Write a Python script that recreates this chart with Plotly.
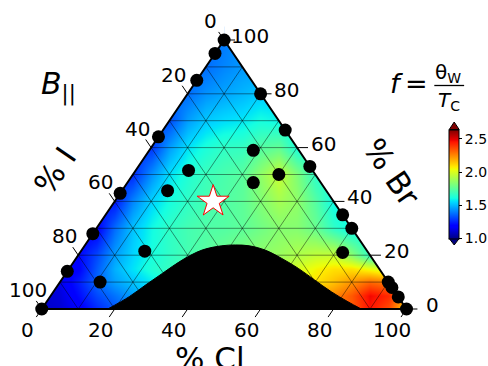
import plotly.graph_objects as go

W, H = 488, 366
FONT = "DejaVu Sans"

# ---------------- data (ternary %: Cl, Br; I = 100 - Cl - Br) ----------------
tick_values = [0, 20, 40, 60, 80, 100]
grid_levels = [10, 20, 30, 40, 50, 60, 70, 80, 90]

# measured points (black dots)
dot_cl = [0, 0, 0, 0, 0, 0, 0, 0,
          20, 33.5, 47, 65, 70, 90, 92, 95.5, 100,
          14.5, 12.5, 28.5, 40, 34.5, 72, 17.5, 11]
dot_br = [100, 95, 85, 64, 43, 28, 14, 0,
          80, 66.5, 53, 35, 30, 10, 8, 4.5, 0,
          51.5, 44, 59, 50, 47, 21, 21.5, 10]

# star marker
star_cl = [27]
star_br = [40]

# boundary of the black (excluded) region
cut_cl = [18.1, 21.7, 24.0, 26.5, 29.4, 33.0, 37.6, 41.2, 45.1, 50.3, 56.4, 62.8, 69.4, 76.2, 82.6, 87.6]
cut_br = [0, 4.6, 8.9, 13.3, 18.2, 21.9, 23.5, 23.8, 23.5, 21.9, 18.8, 15.1, 10.8, 6.4, 2.7, 0]

# f field sampled on the projected grid (x = Cl + Br/2, y = Br)
field_x = [0, 5, 10, 15, 20, 25, 30, 35, 40, 45, 50, 55, 60, 65, 70, 75, 80, 85, 90, 95, 100]
field_y = [0, 5, 10, 15, 20, 30, 40, 50, 60, 70, 80, 90, 100]
f_y0 = [1.10, 1.12, 1.18, 1.27, 1.34, 1.42, 1.50, 1.58, 1.66, 1.74, 1.82, 1.90, 1.98, 2.06, 2.14, 2.20, 2.26, 2.34, 2.46, 2.36, 2.10]
f_y5 = [1.11, 1.13, 1.22, 1.32, 1.39, 1.46, 1.54, 1.62, 1.70, 1.78, 1.86, 1.94, 2.02, 2.08, 2.14, 2.20, 2.26, 2.34, 2.48, 2.42, 2.20]
f_y10 = [1.14, 1.15, 1.25, 1.37, 1.46, 1.52, 1.58, 1.64, 1.70, 1.76, 1.82, 1.88, 1.94, 2.00, 2.05, 2.10, 2.16, 2.24, 2.32, 2.28, 2.20]
f_y15 = [1.18, 1.19, 1.20, 1.35, 1.49, 1.57, 1.64, 1.68, 1.72, 1.76, 1.80, 1.84, 1.88, 1.94, 2.00, 2.06, 2.10, 2.10, 2.04, 1.98, 1.98]
f_y20 = [1.20, 1.20, 1.21, 1.32, 1.46, 1.55, 1.62, 1.67, 1.71, 1.75, 1.79, 1.83, 1.86, 1.88, 1.92, 1.96, 1.97, 1.85, 1.68, 1.68, 1.68]
f_y30 = [1.19, 1.19, 1.19, 1.19, 1.38, 1.52, 1.61, 1.67, 1.71, 1.73, 1.74, 1.76, 1.80, 1.84, 1.84, 1.78, 1.67, 1.60, 1.60, 1.60, 1.60]
f_y40 = [1.24, 1.24, 1.24, 1.24, 1.24, 1.42, 1.55, 1.62, 1.67, 1.71, 1.73, 1.76, 1.83, 1.90, 1.86, 1.74, 1.60, 1.60, 1.60, 1.60, 1.60]
f_y50 = [1.27, 1.27, 1.27, 1.27, 1.27, 1.27, 1.44, 1.57, 1.64, 1.69, 1.72, 1.75, 1.86, 1.97, 1.83, 1.66, 1.66, 1.66, 1.66, 1.66, 1.66]
f_y60 = [1.29, 1.29, 1.29, 1.29, 1.29, 1.29, 1.29, 1.46, 1.57, 1.63, 1.67, 1.68, 1.74, 1.77, 1.63, 1.63, 1.63, 1.63, 1.63, 1.63, 1.63]
f_y70 = [1.33, 1.33, 1.33, 1.33, 1.33, 1.33, 1.33, 1.33, 1.46, 1.53, 1.56, 1.58, 1.62, 1.60, 1.60, 1.60, 1.60, 1.60, 1.60, 1.60, 1.60]
f_y80 = [1.38, 1.38, 1.38, 1.38, 1.38, 1.38, 1.38, 1.38, 1.38, 1.44, 1.47, 1.50, 1.53, 1.53, 1.53, 1.53, 1.53, 1.53, 1.53, 1.53, 1.53]
f_y90 = [1.38, 1.38, 1.38, 1.38, 1.38, 1.38, 1.38, 1.38, 1.38, 1.38, 1.42, 1.45, 1.45, 1.45, 1.45, 1.45, 1.45, 1.45, 1.45, 1.45, 1.45]
f_y100 = [1.38, 1.38, 1.38, 1.38, 1.38, 1.38, 1.38, 1.38, 1.38, 1.38, 1.40, 1.45, 1.45, 1.45, 1.45, 1.45, 1.45, 1.45, 1.45, 1.45, 1.45]

cbar_ticks = [1.0, 1.5, 2.0, 2.5]
f_min, f_max = 1.0, 2.64

# ---------------- layout helpers ----------------
X0_PX, X1_PX = 42, 409      # Cl axis 0..100 in pixels
Y0_PX, Y1_PX = 309, 40      # Br 0..100 in pixels
sx = (X1_PX - X0_PX) / 100.0
sy = (Y0_PX - Y1_PX) / 100.0
x_range = [-X0_PX / sx, (W - X0_PX) / sx]
y_range = [(Y0_PX - H) / sy, Y0_PX / sy]


def to_xy(cl, br):
    return cl + br / 2.0, br


def px(xp, yp):
    return xp / W, 1 - yp / H


jet = [
    [0.0, "rgb(0,0,128)"], [0.11, "rgb(0,0,255)"], [0.125, "rgb(0,0,255)"],
    [0.34, "rgb(0,219,255)"], [0.35, "rgb(0,230,247)"], [0.375, "rgb(21,255,226)"],
    [0.64, "rgb(239,255,8)"], [0.65, "rgb(247,245,0)"], [0.66, "rgb(255,236,0)"],
    [0.89, "rgb(255,19,0)"], [0.91, "rgb(232,0,0)"], [1.0, "rgb(128,0,0)"],
]

fig = go.Figure()

# field
CB_L, CB_R = 452, 462
cb_top, cb_bot = 129.5, 238.5
fig.add_trace(go.Heatmap(
    x=field_x, y=field_y,
    z=[f_y0, f_y5, f_y10, f_y15, f_y20, f_y30, f_y40, f_y50, f_y60, f_y70, f_y80, f_y90, f_y100],
    zsmooth="best", colorscale=jet, zmin=f_min, zmax=f_max, hoverinfo="skip",
    colorbar=dict(
        x=CB_L / W, xanchor="left", xpad=0,
        y=1 - (cb_top + cb_bot) / 2 / H, yanchor="middle", ypad=0,
        len=cb_bot - cb_top, lenmode="pixels",
        thickness=CB_R - CB_L, thicknessmode="pixels",
        outlinewidth=1, outlinecolor="black",
        tickvals=cbar_ticks, ticktext=["%.1f" % v for v in cbar_ticks],
        ticks="outside", ticklen=3, tickcolor="black",
        tickfont=dict(family=FONT, size=14, color="black"),
    ),
))

# white masks outside the triangle
mask_polys = [
    [(0, 0), (50, 100), (50, 120), (-15, 120), (-15, 0)],
    [(100, 0), (50, 100), (50, 120), (125, 120), (125, 0)],
    [(-15, 0), (125, 0), (125, -25), (-15, -25)],
]
for poly in mask_polys:
    fig.add_trace(go.Scatter(x=[p[0] for p in poly], y=[p[1] for p in poly],
                             fill="toself", fillcolor="white", mode="lines",
                             line=dict(width=0, color="white"), hoverinfo="skip",
                             showlegend=False))

# grid lines
gx, gy = [], []
for v in grid_levels:
    for a, b in [((0, v), (100 - v, v)),          # constant Br
                 ((v, 0), (v, 100 - v)),          # constant Cl
                 ((0, 100 - v), (100 - v, 0))]:   # constant I
        x1, y1 = to_xy(*a)
        x2, y2 = to_xy(*b)
        gx += [x1, x2, None]
        gy += [y1, y2, None]
fig.add_trace(go.Scatter(x=gx, y=gy, mode="lines",
                         line=dict(color="rgba(0,0,0,0.55)", width=0.8),
                         hoverinfo="skip", showlegend=False))

# black excluded region
cx, cy = zip(*[to_xy(c, b) for c, b in zip(cut_cl, cut_br)])
fig.add_trace(go.Scatter(x=list(cx), y=list(cy), mode="lines", fill="toself",
                         fillcolor="black", line=dict(color="black", width=1, shape="spline"),
                         hoverinfo="skip", showlegend=False))

# triangle border
bx, by = zip(*[to_xy(c, b) for c, b in [(0, 0), (100, 0), (0, 100), (0, 0)]])
fig.add_trace(go.Scatter(x=list(bx), y=list(by), mode="lines",
                         line=dict(color="black", width=2), hoverinfo="skip", showlegend=False))

# ticks
TL = 3
tx, ty = [], []
for v in tick_values:
    for a, b in [((v, 0), (v, -TL)),                          # Cl (bottom)
                 ((0, 100 - v), (-TL, 100 - v + TL)),         # I (left)
                 ((100 - v, v), (100 - v + TL, v))]:          # Br (right)
        x1, y1 = to_xy(*a)
        x2, y2 = to_xy(*b)
        tx += [x1, x2, None]
        ty += [y1, y2, None]
fig.add_trace(go.Scatter(x=tx, y=ty, mode="lines", line=dict(color="black", width=1),
                         hoverinfo="skip", showlegend=False))

# data points
dx, dy = zip(*[to_xy(c, b) for c, b in zip(dot_cl, dot_br)])
fig.add_trace(go.Scatter(x=list(dx), y=list(dy), mode="markers",
                         marker=dict(color="black", size=13, line=dict(width=0)),
                         cliponaxis=False, hoverinfo="skip", showlegend=False))
sxy = [to_xy(c, b) for c, b in zip(star_cl, star_br)]
fig.add_trace(go.Scatter(x=[p[0] for p in sxy], y=[p[1] for p in sxy], mode="markers",
                         marker=dict(symbol="star", color="white", size=24,
                                     line=dict(color="red", width=1)),
                         hoverinfo="skip", showlegend=False))

annotations = []
tf = dict(family=FONT, size=20, color="black")
for v in tick_values:
    x, y = to_xy(v, 0)
    annotations.append(dict(x=x, y=y, xref="x", yref="y", text=str(v), showarrow=False,
                            xanchor="center", yanchor="middle",
                            xshift=-14, yshift=-21, font=tf))
    x, y = to_xy(0, 100 - v)
    annotations.append(dict(x=x, y=y, xref="x", yref="y", text=str(v), showarrow=False,
                            xanchor="center", yanchor="middle",
                            xshift=-14, yshift=19, font=tf))
    x, y = to_xy(100 - v, v)
    annotations.append(dict(x=x, y=y, xref="x", yref="y", text=str(v), showarrow=False,
                            xanchor="center", yanchor="middle",
                            xshift=26, yshift=4, font=tf))


def paper_text(text, xp, yp, size, angle=0):
    x, y = px(xp, yp)
    return dict(x=x, y=y, xref="paper", yref="paper", text=text, showarrow=False,
                xanchor="center", yanchor="middle", textangle=angle,
                font=dict(family=FONT, size=size, color="black"))


annotations += [
    paper_text("% Cl", 211, 358, 31),
    paper_text("% I", 55, 171, 31, -55.7),
    paper_text("% Br", 394, 172, 31, 55.7),
    paper_text("<i>B</i><sub>||</sub>", 59, 86, 30),
    paper_text("<i>f</i>\u2009=", 412, 83, 27),
    paper_text("θ<sub>W</sub>", 451, 73, 20),
    paper_text("<i>T</i><sub>C</sub>", 452, 101, 20),
]

shapes = []
x1, y1 = px(437, 85.5)
x2, y2 = px(467, 85.5)
shapes.append(dict(type="line", xref="paper", yref="paper", x0=x1, y0=y1, x1=x2, y1=y2,
                   line=dict(color="black", width=1.3)))
# colorbar extension triangles
a = px(CB_L, cb_top); b = px(CB_R, cb_top); c = px((CB_L + CB_R) / 2, 122)
shapes.append(dict(type="path", xref="paper", yref="paper",
                   path=f"M{a[0]},{a[1]} L{b[0]},{b[1]} L{c[0]},{c[1]} Z",
                   fillcolor="rgb(128,0,0)", line=dict(color="black", width=1)))
a = px(CB_L, cb_bot); b = px(CB_R, cb_bot); c = px((CB_L + CB_R) / 2, 245)
shapes.append(dict(type="path", xref="paper", yref="paper",
                   path=f"M{a[0]},{a[1]} L{b[0]},{b[1]} L{c[0]},{c[1]} Z",
                   fillcolor="rgb(0,0,128)", line=dict(color="black", width=1)))

fig.update_layout(
    width=W, height=H, autosize=False,
    margin=dict(l=0, r=0, t=0, b=0, pad=0),
    paper_bgcolor="white", plot_bgcolor="white",
    xaxis=dict(range=x_range, visible=False, showgrid=False, zeroline=False, fixedrange=True),
    yaxis=dict(range=y_range, visible=False, showgrid=False, zeroline=False, fixedrange=True),
    annotations=annotations, shapes=shapes, showlegend=False,
)

fig.write_html("out.html", config={"displayModeBar": False})
